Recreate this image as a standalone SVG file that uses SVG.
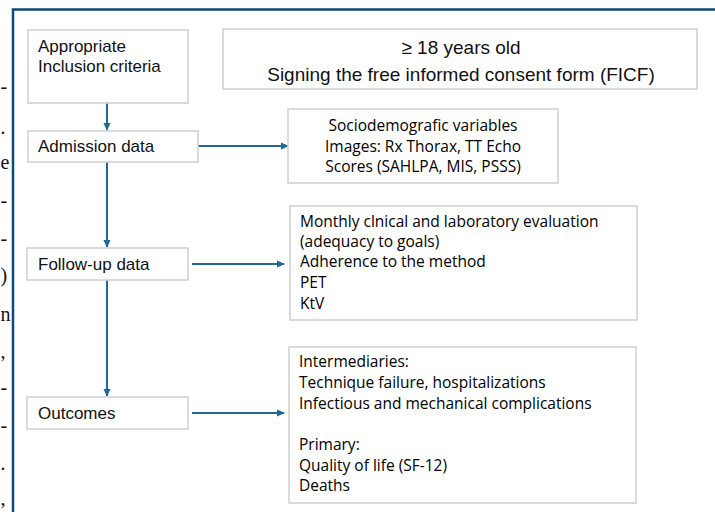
<svg xmlns="http://www.w3.org/2000/svg" width="715" height="512" viewBox="0 0 715 512">
<style>
.box{fill:#fff;stroke:#d3d3d3;stroke-width:1.6}
.lbl{font-family:"Liberation Sans",Arial,sans-serif;font-size:17px;fill:#111}
.big{font-family:"Liberation Sans",Arial,sans-serif;font-size:19px;fill:#111}
.det{font-family:"Open Sans","Noto Sans",sans-serif;font-size:15.5px;fill:#000}
.frag{font-family:"Liberation Serif","Times New Roman",serif;font-size:20px;fill:#111}
.conn{stroke:#236892;stroke-width:2;fill:none}
</style>
<defs>
<marker id="ah" markerWidth="8" markerHeight="8" refX="7" refY="4" orient="auto" markerUnits="userSpaceOnUse">
<path d="M0,0.5 L8,4 L0,7.5 Z" fill="#236892"/>
</marker>
</defs>
<rect width="715" height="512" fill="#fff"/>
<g id="page-fragments">
<text class="frag" x="0.5" y="93">-</text>
<text class="frag" x="0.5" y="134">.</text>
<text class="frag" x="0.5" y="169">e</text>
<text class="frag" x="0.5" y="207">-</text>
<text class="frag" x="0.5" y="245">-</text>
<text class="frag" x="0.5" y="282">)</text>
<text class="frag" x="0.5" y="321">n</text>
<text class="frag" x="0.5" y="358">,</text>
<text class="frag" x="0.5" y="394">-</text>
<text class="frag" x="0.5" y="432">-</text>
<text class="frag" x="0.5" y="470">.</text>
<text class="frag" x="0.5" y="505">,</text>
</g>
<path id="frame" d="M13,512 V9.5 H715" fill="none" stroke="#0e4a7c" stroke-width="2.5"/>
<g id="connectors">
<line class="conn" x1="107" y1="103" x2="107" y2="130" marker-end="url(#ah)"/>
<line class="conn" x1="107" y1="162" x2="107" y2="247" marker-end="url(#ah)"/>
<line class="conn" x1="107" y1="280" x2="107" y2="396" marker-end="url(#ah)"/>
<line class="conn" x1="198" y1="146" x2="288" y2="146" marker-end="url(#ah)"/>
<line class="conn" x1="192" y1="264" x2="284" y2="264" marker-end="url(#ah)"/>
<line class="conn" x1="192" y1="413" x2="284" y2="413" marker-end="url(#ah)"/>
</g>
<g id="inclusion">
<rect class="box" x="28" y="30" width="160" height="73"/>
<text class="lbl" x="38" y="52">Appropriate</text>
<text class="lbl" x="38" y="72">Inclusion criteria</text>
</g>
<g id="criteria">
<rect class="box" x="223" y="29" width="474" height="60"/>
<text class="big" x="461" y="54" text-anchor="middle">≥ 18 years old</text>
<text class="big" x="461" y="81" text-anchor="middle">Signing the free informed consent form (FICF)</text>
</g>
<g id="admission">
<rect class="box" x="28" y="131" width="170" height="31"/>
<text class="lbl" x="38" y="152">Admission data</text>
</g>
<g id="admission-vars">
<rect class="box" x="288" y="109" width="270" height="74"/>
<text class="det" x="423" y="131" text-anchor="middle">Sociodemografic variables</text>
<text class="det" x="423" y="152" text-anchor="middle">Images: Rx Thorax, TT Echo</text>
<text class="det" x="423" y="172" text-anchor="middle">Scores (SAHLPA, MIS, PSSS)</text>
</g>
<g id="followup">
<rect class="box" x="27" y="248" width="161" height="32"/>
<text class="lbl" x="38" y="270">Follow-up data</text>
</g>
<g id="followup-vars">
<rect class="box" x="290" y="206" width="347" height="114"/>
<text class="det" x="300" y="227">Monthly clnical and laboratory evaluation</text>
<text class="det" x="300" y="247">(adequacy to goals)</text>
<text class="det" x="300" y="267">Adherence to the method</text>
<text class="det" x="300" y="288">PET</text>
<text class="det" x="300" y="309">KtV</text>
</g>
<g id="outcomes">
<rect class="box" x="27" y="397" width="161" height="32"/>
<text class="lbl" x="38" y="419">Outcomes</text>
</g>
<g id="outcomes-vars">
<rect class="box" x="289" y="347" width="347" height="156"/>
<text class="det" x="299" y="367">Intermediaries:</text>
<text class="det" x="299" y="388">Technique failure, hospitalizations</text>
<text class="det" x="299" y="409">Infectious and mechanical complications</text>
<text class="det" x="299" y="450">Primary:</text>
<text class="det" x="299" y="471">Quality of life (SF-12)</text>
<text class="det" x="299" y="491">Deaths</text>
</g>
</svg>
